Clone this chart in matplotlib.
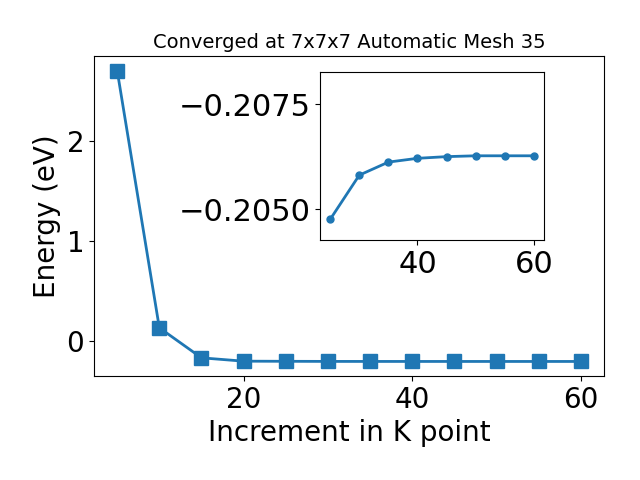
import matplotlib
matplotlib.use('Agg')
import matplotlib.pyplot as plt

# k-point convergence data (energy in eV)
kpoints = [5, 10, 15, 20, 25, 30, 35, 40, 45, 50, 55, 60]
energy = [2.70, 0.13, -0.17, -0.2035, -0.20476, -0.20581, -0.20612, -0.20621,
          -0.20625, -0.20627, -0.20627, -0.20627]

# zoomed region for the inset
k_zoom = kpoints[4:]
e_zoom = energy[4:]

fig = plt.figure(figsize=(6.4, 4.8), dpi=100)
ax = fig.add_axes([94 / 640, 1 - 376 / 480, (604 - 94) / 640, (376 - 56) / 480])
ax.plot(kpoints, energy, marker='s', markersize=10, linewidth=2)
ax.set_title('Converged at 7x7x7 Automatic Mesh 35', fontsize=14)
ax.set_xlabel('Increment in K point', fontsize=20)
ax.set_ylabel('Energy (eV)', fontsize=20)
ax.tick_params(labelsize=20)

# inset
ins = fig.add_axes([320 / 640, 1 - 240 / 480, 224 / 640, 168 / 480])
ins.plot(k_zoom, e_zoom, marker='o', markersize=5, linewidth=2)
ins.set_ylim(-0.20427, -0.20826)
ins.set_yticks([-0.2075, -0.2050])
ins.set_xticks([40, 60])
ins.tick_params(labelsize=22)

fig.savefig('out.png')
